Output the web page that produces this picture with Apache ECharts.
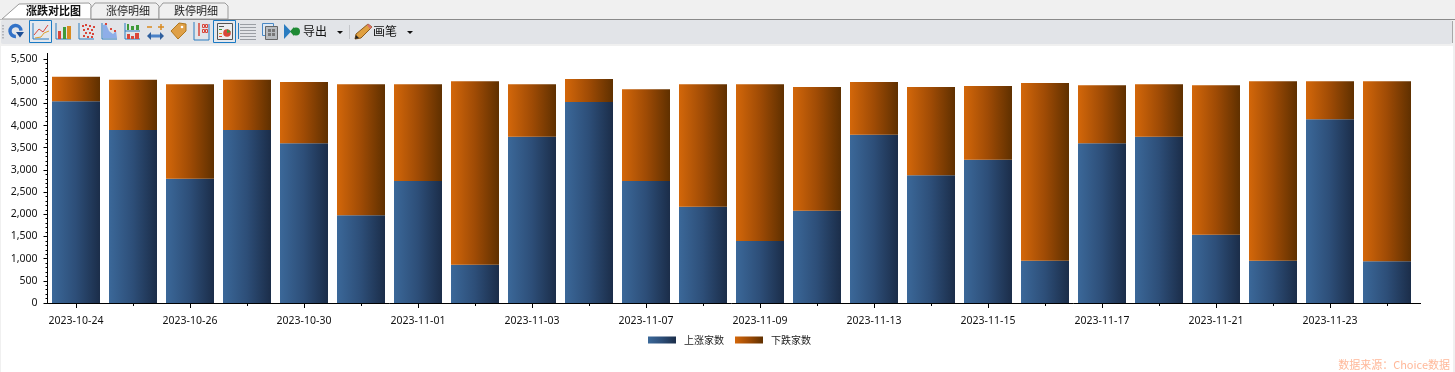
<!DOCTYPE html>
<html><head><meta charset="utf-8">
<style>html,body{margin:0;padding:0;background:#f0f0f0}#c{width:1455px;height:372px}</style>
<script src="https://cdn.jsdelivr.net/npm/echarts@6/dist/echarts.min.js"></script>
</head><body><div id="c"></div>
<script>
const categories = ['2023-10-24','2023-10-25','2023-10-26','2023-10-27','2023-10-30','2023-10-31','2023-11-01','2023-11-02','2023-11-03','2023-11-06','2023-11-07','2023-11-08','2023-11-09','2023-11-10','2023-11-13','2023-11-14','2023-11-15','2023-11-16','2023-11-17','2023-11-20','2023-11-21','2023-11-22','2023-11-23','2023-11-24'];
const upCounts = [4550,3900,2800,3900,3600,1980,2750,860,3750,4530,2750,2170,1400,2080,3790,2880,3230,950,3600,3750,1540,950,4140,940];
const downCounts = [550,1130,2130,1130,1380,2950,2180,4140,1180,520,2070,2760,3530,2790,1190,1990,1660,4010,1310,1180,3370,4050,860,4060];
const seriesNames = ['上涨家数','下跌家数'];
const tabNames = ['涨跌对比图','涨停明细','跌停明细'];
const sourceText = '数据来源：Choice数据';

const numFont = '"Noto Sans","Open Sans",sans-serif';
const cjk = '"Noto Sans CJK SC","Noto Sans",sans-serif';
const g = [];
const rect=(x,y,w,h,fill,r,stroke,lw)=>g.push({type:'rect',silent:true,shape:{x,y,width:w,height:h,r:r||0},style:{fill:fill||'none',stroke:stroke||null,lineWidth:lw||1}});
const line=(pts,stroke,lw)=>g.push({type:'polyline',silent:true,shape:{points:pts},style:{fill:'none',stroke,lineWidth:lw||1}});
const poly=(pts,fill,stroke)=>g.push({type:'polygon',silent:true,shape:{points:pts},style:{fill,stroke:stroke||null}});
const dot=(x,y,r,fill)=>g.push({type:'circle',silent:true,shape:{cx:x,cy:y,r},style:{fill}});
const text=(x,y,t,font,fill,align)=>g.push({type:'text',silent:true,x,y,style:{text:t,font,fill,align:align||'left',verticalAlign:'middle'}});

// window chrome
rect(0,0,1455,372,'#f0f0f0');
rect(1,46,1452,326,'#ffffff');
// tabs
poly([[2,19],[19,4],[89,3],[91,5],[91,19]],'#ffffff','#9a9a9a');
poly([[91,19],[91,8],[95,3],[156,3],[159,6],[159,19]],'#f0f0f0','#9a9a9a');
poly([[159,19],[159,8],[163,3],[225,3],[228,6],[228,19]],'#f0f0f0','#9a9a9a');
line([[91,19.5],[1455,19.5]],'#8a8a8a',1);
line([[0,19.5],[26,19.5]],'#bdbdbd',1);
text(26,11,tabNames[0],'bold 11px '+cjk,'#111');
text(106,11,tabNames[1],'11px '+cjk,'#222');
text(174,11,tabNames[2],'11px '+cjk,'#222');
// toolbar
rect(1,20,1451,24,'#e2e4e8',2);
line([[1452.5,21],[1452.5,43]],'#a8a8a8',1);
for(const y of [25,28,31,34,37]) rect(2,y,2,1.5,'#b4b6bb');
// selected boxes
rect(29.5,20.5,22,22,'#e4e8ee',0,'#1a7ac4',1);
rect(213.5,20.5,22,22,'#e4e8ee',0,'#1a7ac4',1);
// refresh
g.push({type:'arc',silent:true,shape:{cx:15.5,cy:31,r:5.5,startAngle:1.5,endAngle:6.2},style:{fill:'none',stroke:'#3272c8',lineWidth:3.4}});
poly([[16,32],[24,32],[20,37.5]],'#1d4f96');
// line chart
line([[33,23],[33,39],[49,39]],'#2a7cc0',1);
line([[34,35],[39,29],[43,32],[48,25]],'#d9463a',1);
line([[35,38],[41,37],[44,33],[49,31]],'#e0a030',1);
// bars
line([[56,23],[56,39],[71,39]],'#2a7cc0',1);
rect(58,31,3,8,'#d9463a');rect(63,33,3,6,'#d9463a');rect(67,26,4,13,'#d98a20');rect(63,27,3,12,'#3f9a3a');
// scatter
line([[79,23],[79,39],[94,39]],'#2a7cc0',1);
[[82,25],[85,24],[89,25],[93,26],[83,29],[87,28],[91,29],[85,32],[89,32],[92,33],[83,35],[87,36],[91,36]].forEach(p=>rect(p[0],p[1],2,2,'#d9463a'));
// area
line([[102,23],[102,39],[117,39]],'#2a7cc0',1);
poly([[103,38],[103,25],[106,24],[109,31],[113,34],[116,31],[117,38]],'#8eaee8');
rect(105,23,2,2,'#d9463a');rect(110,28,2,2,'#d9463a');rect(114,30,2,2,'#d9463a');
// multi
line([[125,23],[125,39],[140,39]],'#2a7cc0',1);line([[125,31],[140,31]],'#2a7cc0',1);
rect(127,24,2,6,'#3f9a3a');rect(131,26,3,4,'#3f9a3a');rect(136,25,3,5,'#3f9a3a');
rect(127,34,3,5,'#d9463a');rect(131,36,3,3,'#d9463a');rect(135,33,4,6,'#d9463a');
// arrows
line([[147,27],[152,27]],'#d98a20',1.5);line([[158,27],[164,27]],'#d98a20',1.5);line([[161,24],[161,30]],'#d98a20',1.5);
line([[149,36],[162,36]],'#4b82c8',3);
poly([[147,36],[151,32],[151,40]],'#2f5f9e');poly([[164,36],[160,32],[160,40]],'#2f5f9e');
// tag
poly([[171,31],[179,23],[186,24],[186,31],[178,39]],'#dfa048','#b07820');
dot(182,27,1.3,'#fff');
// numbers
line([[194,22],[194,40],[209,40]],'#2a7cc0',1);line([[209,24],[209,40]],'#2a7cc0',1);
line([[199,23],[199,36]],'#d9463a',1.5);
for(const p of [[202,24],[205,24],[202,29],[205,29]]) rect(p[0]+.5,p[1]+.5,2,3,'none',0,'#d9463a',1);
// box chart icon
rect(217.5,23.5,15,16,'#eceef0',0,'#555',1);
rect(219,26,5,1,'#555');rect(219,29,3,1,'#3f9a3a');rect(219,33,3,1,'#d9a020');rect(219,36,3,1,'#d9463a');
dot(227,33,3.8,'#d9463a');poly([[227,33],[227,29],[231,32]],'#3f9a3a');
// list
rect(238,23,1,16,'#2a7cc0');
for(let i=0;i<6;i++) rect(240,24+i*3,16,1,'#9a9ea4');
// grid-image
rect(262.5,23.5,11,12,'#dce8f4',0,'#4a88c4',1);
rect(265.5,26.5,12,13,'#b9bcc0',0,'#666',1);
for(const p of [[268,29],[272,29],[268,33],[272,33]]) rect(p[0],p[1],3,3,'#777');
// export
poly([[284,24],[284,39],[291,31.5]],'#2a7cc0');
dot(296,31.5,4,'#1f8a34');poly([[290,31.5],[294,27],[294,36]],'#1f8a34');
text(303,31.5,'导出','12px '+cjk,'#111');
poly([[337,31],[343,31],[340,34]],'#111');
line([[349.5,25],[349.5,39]],'#c4c6ca',1);
// pencil
poly([[355,39],[356,34],[368,24],[372,27],[361,38]],'#e0a040','#8a5a20');
poly([[355,39],[356,35],[359,38]],'#222');
poly([[367,25],[368,24],[372,27],[370,29]],'#d97070');
text(373,31.5,'画笔','12px '+cjk,'#111');
poly([[407,31],[413,31],[410,34]],'#111');
// axis extensions beyond the library's plot rect
line([[47.5,53],[47.5,60]],'#000',1);
line([[1415,303.5],[1421,303.5]],'#000',1);
// source note
text(1450,365,sourceText,'11px '+cjk,'#ffb899','right');

const grad=(a,b,c)=>new echarts.graphic.LinearGradient(0,0,1,0,[{offset:0,color:a},{offset:0.5,color:b},{offset:1,color:c}]);
const blue=grad('#3b6899','#2d4e78','#1b2d49');
const orange=grad('#d3670a','#9f4b05','#5f3000');
const chart=echarts.init(document.getElementById('c'),null,{renderer:'canvas'});
chart.setOption({
  animation:false,
  backgroundColor:'transparent',
  graphic:{elements:g,z:-1},
  grid:{left:47.5,right:39.5,top:59,bottom:69,containLabel:false},
  legend:{left:643,top:330,itemWidth:28,itemHeight:7,itemGap:11,icon:'rect',
    data:seriesNames,textStyle:{fontFamily:cjk,fontSize:10,color:'#222',padding:[3,0,0,3]},selectedMode:false},
  xAxis:[{type:'category',data:categories,boundaryGap:true,
    axisLine:{lineStyle:{color:'#000',width:1}},
    axisTick:{show:true,alignWithLabel:true,interval:0,length:3,lineStyle:{color:'#000'}},
    axisLabel:{interval:1,fontFamily:numFont,fontSize:10.5,color:'#111',margin:13}},
   {type:'category',data:categories,position:'bottom',boundaryGap:true,
    axisLine:{show:false},
    axisTick:{show:true,alignWithLabel:true,interval:1,length:5,lineStyle:{color:'#000'}},
    axisLabel:{show:false}}],
  yAxis:{type:'value',min:0,max:5500,interval:500,
    axisLine:{show:true,lineStyle:{color:'#000',width:1}},
    axisTick:{show:true,length:4,lineStyle:{color:'#000'}},
    minorTick:{show:true,splitNumber:5,length:2,lineStyle:{color:'#000'}},
    splitLine:{show:false},
    axisLabel:{fontFamily:numFont,fontSize:10.5,color:'#111',margin:10,padding:[3,0,0,0],
      formatter:v=>v.toLocaleString('en-US')}},
  series:[
   {name:seriesNames[0],type:'bar',stack:'t',barWidth:48,data:upCounts,itemStyle:{color:blue}},
   {name:seriesNames[1],type:'bar',stack:'t',barWidth:48,data:downCounts,itemStyle:{color:orange}}
  ]
});
</script></body></html>
